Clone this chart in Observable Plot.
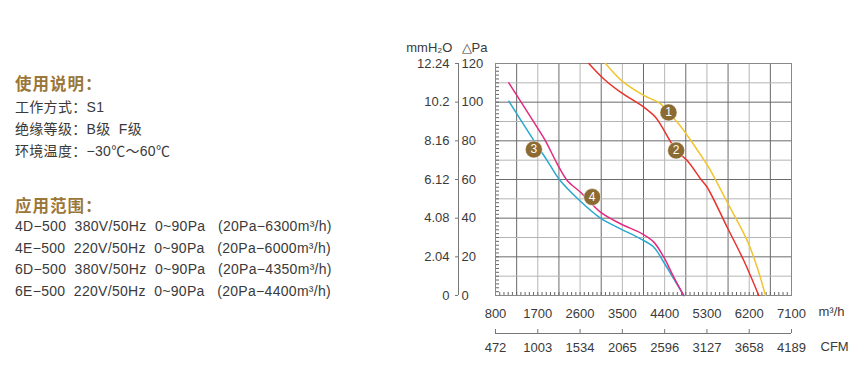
<!DOCTYPE html>
<html>
<head>
<meta charset="utf-8">
<script src="https://cdn.jsdelivr.net/npm/d3@7"></script>
<script src="https://cdn.jsdelivr.net/npm/@observablehq/plot@0.6"></script>
<style>
  html, body { margin: 0; padding: 0; background: #fff; }
  #wrap { position: relative; width: 866px; height: 375px; overflow: hidden; }
  #chart { position: absolute; left: 0; top: 0; }
  .info { position: absolute; left: 15px; font-family: "Liberation Sans", Arial, "Noto Sans CJK SC", sans-serif; white-space: pre; }
  .ttl { font-family: "Noto Sans CJK SC", sans-serif; font-size: 16.5px; font-weight: bold; color: #9a7638; letter-spacing: 1px; }
  .ln { font-size: 14px; letter-spacing: 0.3px; color: #3a3a3a; }
</style>
</head>
<body>
<div id="wrap">
  <div id="chart"></div>
</div>
<script>
// ---- data ----
const infoTitle1 = "使用说明：";
const infoLines1 = ["工作方式：S1", "绝缘等级：B级  F级", "环境温度：−30℃～60℃"];
const infoTitle2 = "应用范围：";
const infoLines2 = [
  "4D−500  380V/50Hz  0~90Pa   (20Pa−6300m³/h)",
  "4E−500  220V/50Hz  0~90Pa   (20Pa−6000m³/h)",
  "6D−500  380V/50Hz  0~90Pa   (20Pa−4350m³/h)",
  "6E−500  220V/50Hz  0~90Pa   (20Pa−4400m³/h)"
];

const xTicks = [800, 1700, 2600, 3500, 4400, 5300, 6200, 7100];
const cfmLabels = ["472", "1003", "1534", "2065", "2596", "3127", "3658", "4189"];
const paTicks = [0, 20, 40, 60, 80, 100, 120];
const mmLabels = ["0", "2.04", "4.08", "6.12", "8.16", "10.2", "12.24"];

// curve 1 (yellow)
const curve1Flow = [3141, 3496, 3956, 4311, 4467, 4666, 5056, 5290, 5375, 5731, 6156, 6369, 6546];
const curve1Pa   = [120, 110.9, 103.5, 99.2, 94.7, 89.7, 76.7, 68.1, 64.7, 48.3, 28.5, 14.6, 0];
// curve 2 (red)
const curve2Flow = [2786, 3106, 3460, 3956, 4205, 4368, 4509, 4645, 4879, 5163, 5305, 5731, 6084, 6404];
const curve2Pa   = [120, 112, 105.2, 97.4, 92.2, 86.2, 80.2, 75, 69.8, 60.4, 56, 35.3, 18.1, 0];
// curve 3 (cyan)
const curve3Flow = [1083, 1615, 1900, 2147, 2573, 3034, 3460, 3886, 4169, 4382, 4594, 4807];
const curve3Pa   = [100.5, 80.2, 69.8, 60.4, 49.5, 40, 34.5, 29.3, 25, 17.2, 8.6, 0];
// curve 4 (magenta)
const curve4Flow = [1083, 1687, 1864, 2113, 2326, 2609, 3034, 3460, 3922, 4169, 4382, 4594, 4807];
const curve4Pa   = [110, 87, 80, 68.1, 59.5, 53.4, 43.1, 37.1, 31.9, 27.6, 19.8, 9.5, 0];

const curveColors = ["#f3c431", "#e8322c", "#2ba8cf", "#e22a80"];
const markerIds  = ["1", "2", "3", "4"];
const markerFlow = [4482, 4645, 1616, 2858];
const markerPa   = [94.7, 75, 75.5, 50.9];

// ---- build ----
const series = [
  [curve1Flow, curve1Pa], [curve2Flow, curve2Pa], [curve3Flow, curve3Pa], [curve4Flow, curve4Pa]
];
const lineData = series.flatMap(([f, p], s) => f.map((v, i) => ({s, flow: v, pa: p[i]})));
const markers = markerIds.map((id, i) => ({id, flow: markerFlow[i], pa: markerPa[i]}));

const gridXs = d3.range(800, 7101, 450);
const gridYs = d3.range(0, 121, 10);
const minorY = d3.range(0, 121, 2);
const minorX = d3.range(800, 7101, 90);

const font = "'Liberation Sans', Arial, sans-serif";
const txt = "#3a3a3a";

const chart = Plot.plot({
  width: 866,
  height: 375,
  marginLeft: 495,
  marginRight: 75,
  marginTop: 63,
  marginBottom: 80,
  style: {fontFamily: font, fontSize: "13px", color: txt, background: "transparent", overflow: "visible"},
  x: {domain: [800, 7100], axis: null},
  y: {domain: [0, 120], axis: null},
  marks: [
    // grid
    Plot.ruleX(gridXs.filter((d, i) => i % 2 === 1), {stroke: "#6a6a6a", strokeWidth: 1}),
    Plot.ruleX(gridXs.filter((d, i) => i % 2 === 0 && i > 0 && i < 14), {stroke: "#b5b5b5", strokeWidth: 1}),
    Plot.ruleY(gridYs.filter(d => d % 20 === 0 && d > 0 && d < 120), {stroke: "#6a6a6a", strokeWidth: 1}),
    Plot.ruleY(gridYs.filter(d => d % 20 !== 0), {stroke: "#b5b5b5", strokeWidth: 1}),
    // minor ticks inside frame
    Plot.tickY(minorY, {y: d => d, insetRight: 292, stroke: "#666"}),
    Plot.tickX(minorX, {x: d => d, insetTop: 229, stroke: "#666"}),
    Plot.frame({stroke: "#888"}),
    // curves
    Plot.line(lineData, {x: "flow", y: "pa", z: "s", stroke: d => curveColors[d.s], strokeWidth: 1.5, curve: "catmull-rom"}),
    // markers
    Plot.dot(markers, {x: "flow", y: "pa", r: 8.5, fill: "#8c6b32", stroke: "#fff", strokeWidth: 0.5}),
    Plot.text(markers, {x: "flow", y: "pa", text: "id", fill: "#fff", fontSize: 12}),
    // left double axis
    Plot.ruleX([800], {dx: -37, stroke: "#777"}),
    Plot.tickY(paTicks, {y: d => d, insetLeft: -40, insetRight: 333, stroke: "#777"}),
    Plot.text(paTicks, {y: d => d, text: d => String(d), frameAnchor: "left", dx: -34, textAnchor: "start", fill: txt}),
    Plot.text(paTicks, {y: d => d, text: (d, i) => mmLabels[i], frameAnchor: "left", dx: -46, textAnchor: "end", fill: txt}),
    Plot.text(["mmH₂O"], {frameAnchor: "top-left", dx: -43, dy: -21, textAnchor: "end", fill: txt}),
    Plot.text(["△Pa"], {frameAnchor: "top-left", dx: -34, dy: -21, textAnchor: "start", fill: txt}),
    // bottom axes
    Plot.text(xTicks, {x: d => d, text: d => String(d), frameAnchor: "bottom", dy: 22, fill: txt}),
    Plot.text(["m³/h"], {frameAnchor: "bottom-right", dx: 27, dy: 20, textAnchor: "start", fill: txt}),
    Plot.ruleY([0], {dy: 38, stroke: "#777"}),
    Plot.tickX(xTicks, {x: d => d, insetTop: 266, insetBottom: -38, stroke: "#777"}),
    Plot.text(xTicks, {x: d => d, text: (d, i) => cfmLabels[i], frameAnchor: "bottom", dy: 56, fill: txt}),
    Plot.text(["CFM"], {frameAnchor: "bottom-right", dx: 29, dy: 55, textAnchor: "start", fill: txt})
  ]
});
const wrap = document.getElementById("wrap");
document.getElementById("chart").appendChild(chart);

function addText(t, cls, y) {
  const d = document.createElement("div");
  d.className = "info " + cls;
  d.textContent = t;
  d.style.top = y + "px";
  wrap.appendChild(d);
}
addText(infoTitle1, "ttl", 71);
infoLines1.forEach((t, i) => addText(t, "ln", 96 + i * 22));
addText(infoTitle2, "ttl", 193);
infoLines2.forEach((t, i) => addText(t, "ln", 218 + i * 21.5));
</script>
</body>
</html>
